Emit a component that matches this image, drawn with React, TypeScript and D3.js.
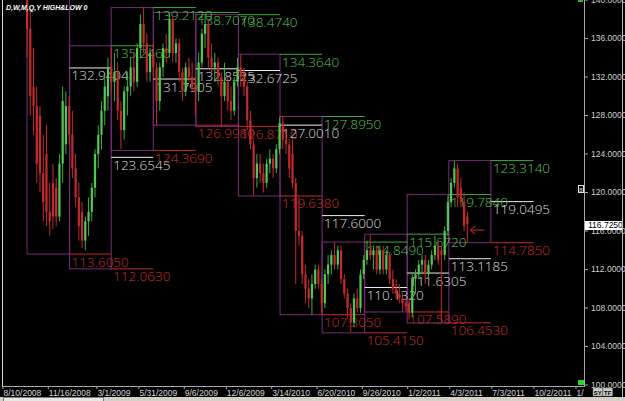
import React from "react";
import * as d3 from "d3";

const W = 625;
const H = 401;

const title = "D,W,M,Q,Y HIGH&LOW 0";
const firstBar = "2008-10-01";

const opens = [
  148, 137, 131, 129, 128, 122, 124, 118, 121, 120.5, 117.5, 123, 125, 129,
  126, 122.5, 119.5, 118, 115, 117, 118, 120.5, 124, 126, 128.5, 130, 133,
  131.5, 132.5, 128.5, 126.5, 130.5, 131, 133, 131.5, 135, 137.5, 135.5, 132.5, 134.5,
  133, 129.5, 133, 135, 134.5, 138, 134.5, 135.5, 132.5, 130.5, 133, 132, 131,
  130.5, 133.5, 136.5, 137.5, 134, 133, 133.5, 132, 130, 131.5, 129.5, 128.5, 131.5,
  133, 132, 131, 127.5, 125, 121.5, 123, 122, 121, 123, 123.5, 122.5, 124.5,
  127.2, 125.5, 125, 124, 121, 116, 115.5, 111.5, 110, 109, 110.5, 112, 110.5,
  108.5, 111.5, 112.5, 113.5, 112.5, 114, 111, 109.5, 108, 106.5, 109, 108, 111.5,
  113, 114, 113.5, 114, 112, 114, 112, 113.5, 111, 110, 109.5, 109, 108.5,
  108.5, 107.5, 111, 111.5, 112.5, 113, 111.5, 112.5, 113.5, 114.5, 114, 113.5, 116,
  119, 121, 122.5, 120.5, 119, 117.5,
];
const highs = [
  150, 139, 135, 131, 129, 126, 127, 121, 123, 121.5, 124, 131, 130.5, 130,
  128.5, 124, 121, 119, 117.5, 119.5, 121, 124.5, 127, 129.5, 132, 134, 135,
  134.5, 133.5, 129.5, 131, 132.5, 134, 134.5, 135.5, 138.5, 139.2, 136.5, 135, 135.5,
  133.5, 133.5, 135.5, 136.5, 138.7, 138.3, 136, 136, 133, 133.5, 134, 133.5, 132,
  134.5, 137, 138.5, 138, 135.5, 134.5, 134, 132.5, 133.5, 132, 131, 132, 134,
  134.3, 133, 131.5, 128.5, 125.5, 124, 124, 123, 123.5, 124.5, 124, 125, 127.8,
  127.9, 126.5, 125.5, 125.5, 121.5, 119.5, 116, 112.5, 111, 111.5, 112.5, 112.5, 111,
  112, 113.5, 114, 114.8, 114.5, 114.5, 111.5, 110, 108.5, 109.5, 110, 112, 113.5,
  115, 115.6, 114.5, 114.5, 114.5, 114.5, 114, 113.8, 112, 111, 110.5, 109.5, 109,
  109, 111.5, 112, 113, 113.5, 113.5, 113, 114, 115.5, 115, 114.5, 116.5, 119.7,
  121.5, 123.3, 123, 121.5, 120, 118,
];
const lows = [
  134, 128, 126, 121, 120, 117, 116.5, 115.5, 116.2, 116.5, 117, 121, 124, 125,
  121.5, 118.5, 115, 114.2, 114, 115.5, 117, 119.5, 122.5, 124.5, 127, 128.5, 130.5,
  129.5, 127.5, 124.5, 125.5, 128, 130, 130.5, 131, 134, 134.5, 131.5, 131.5, 132,
  127, 128.5, 132, 133.5, 134, 133.5, 133.5, 131.5, 129.5, 130, 131.5, 130.5, 128,
  129.5, 133, 135, 133, 132.5, 131.5, 131, 126.9, 129.5, 128.5, 127.5, 128, 131,
  131, 130, 126.5, 124.5, 119.7, 120.5, 121, 120, 120.5, 122, 121.5, 122, 124,
  124.5, 124, 121.5, 120.5, 110.5, 114.5, 110.5, 108.5, 108, 107.3, 110, 110, 107.5,
  108, 110.5, 111.5, 112, 112, 110.5, 109, 107, 105.5, 106, 107.5, 107.5, 111,
  112.5, 113, 112, 111.5, 111.5, 111.5, 111.5, 110.5, 109.5, 109, 108.5, 107.6, 107.7,
  106.8, 107, 109.5, 111, 111.5, 110.5, 111, 112, 113, 112.5, 106.5, 113, 115.5,
  118.5, 120.5, 118.5, 118.5, 116, 114.8,
];
const closes = [
  137, 130, 129, 123, 122, 119, 118, 117, 117.5, 117.5, 123, 129.5, 129, 126,
  122.5, 119.5, 116.5, 115, 117, 118, 120.5, 124, 126, 128.5, 131, 133, 131.5,
  132.5, 128.5, 126.5, 130.5, 131, 133, 131.5, 135, 137.5, 135.5, 132.5, 134.5, 133,
  129.5, 133, 135, 134.5, 138, 134.5, 135.5, 132.5, 130.5, 133, 132, 131, 130.5,
  133.5, 136.5, 137.5, 134, 133, 133.5, 132, 130, 131.5, 129.5, 128.5, 131.5, 133,
  132, 131, 127.5, 125, 121.5, 123, 122, 121, 123, 123.5, 122.5, 124.5, 127.2,
  125.5, 125, 122.5, 121, 116, 115.5, 111.5, 110, 109, 110.5, 112, 110.5, 108.5,
  111.5, 112.5, 113.5, 112.5, 114, 111, 109.5, 108, 106.5, 109, 108, 111.5, 113,
  114, 113.5, 114, 112, 114, 112, 113.5, 111, 110, 109.5, 109, 108.5, 108.2,
  107.5, 111, 111.5, 112.5, 113, 111.5, 112.5, 113.5, 114.5, 113, 113.5, 116, 119,
  121, 122.5, 119.5, 119, 116.5, 116.7,
];

const quarterStarts = [
  "2008-10-01", "2009-01-01", "2009-04-01", "2009-07-01", "2009-10-01",
  "2010-01-01", "2010-04-01", "2010-07-01", "2010-10-01", "2011-01-01",
  "2011-04-01", "2011-07-01", "2011-10-01",
];
const quarterHighs = [
  152.2758, 135.246, 139.212, 138.707, 138.474, 134.364, 127.895, 114.849,
  115.672, 119.784, 123.314,
];
const quarterLows = [
  113.605, 112.063, 124.369, 126.998, 126.871, 119.638, 107.305, 105.415,
  107.589, 106.453, 114.785,
];

const xTickLabels = [
  "8/10/2008", "11/16/2008", "3/1/2009", "5/31/2009", "9/6/2009", "12/6/2009",
  "3/14/2010", "6/20/2010", "9/26/2010", "1/2/2011", "4/3/2011", "7/3/2011",
  "10/2/2011", "1/1/2012",
];
const yTickValues = [100, 104, 108, 112, 116, 120, 124, 128, 132, 136, 140];
const lastPrice = 116.725;
const arrowPrice = 116.1;

const RED = "#c42a2a";
const GREEN = "#3aae3a";
const GREEN_BODY = "#52c852";
const PURPLE = "#7b2c7b";
const LBL_GREEN = "#55c455";
const LBL_RED = "#cc2e2e";
const LBL_WHITE = "#dedede";

export default function App() {
  const parse = d3.timeParse("%Y-%m-%d");
  const parseTick = d3.timeParse("%m/%d/%Y");
  const plotL = 3;
  const plotR = 584;
  const plotB = 386;

  const x = d3
    .scaleTime()
    .domain([parseTick("8/10/2008") as Date, parseTick("1/1/2012") as Date])
    .range([3, 576]);
  const y = d3.scaleLinear().domain([100, 140]).range([385, 0]);

  const start = parse(firstBar) as Date;
  const bars = closes.map((c, i) => ({
    date: d3.timeDay.offset(start, 7 * i),
    o: opens[i],
    h: highs[i],
    l: lows[i],
    c,
  }));

  const qDates = quarterStarts.map((s) => parse(s) as Date);
  const quarters = quarterHighs.map((h, i) => ({
    h,
    l: quarterLows[i],
    m: (h + quarterLows[i]) / 2,
    x0: x(qDates[i]),
    x1: x(qDates[i + 1]),
    x2: x(qDates[i + 2]),
  }));

  const fmt = (v: number) => v.toFixed(4);
  const lblFont = "'Open Sans', 'Liberation Sans', Arial, sans-serif";
  const axFont = "'Liberation Sans Narrow', 'Arial Narrow', 'Liberation Sans', sans-serif";

  const last = bars[bars.length - 1];
  const xl = x(last.date);
  const ya = y(arrowPrice);
  const yp = y(lastPrice);

  return (
    <div style={{ position: "fixed", left: 0, top: 0, width: W, height: H }}>
      <svg width={W} height={H} style={{ display: "block" }}>
        <defs>
          <clipPath id="plot">
            <rect x={plotL} y={0} width={plotR - plotL} height={plotB} />
          </clipPath>
          <clipPath id="xlab">
            <rect x={0} y={plotB} width={plotR} height={12} />
          </clipPath>
        </defs>
        <rect x={0} y={0} width={W} height={H} fill="#000" />

        <g clipPath="url(#plot)">
          {quarters.map((q, i) => (
            <rect
              key={"box" + i}
              x={q.x0}
              y={y(q.h)}
              width={q.x1 - q.x0}
              height={y(q.l) - y(q.h)}
              fill="none"
              stroke={PURPLE}
              strokeWidth={1}
            />
          ))}
          {quarters.map((q, i) => (
            <g key={"ln" + i}>
              <line x1={q.x1} x2={q.x2} y1={y(q.h)} y2={y(q.h)} stroke={GREEN} strokeWidth={1} />
              <line x1={q.x1} x2={q.x2} y1={y(q.l)} y2={y(q.l)} stroke={RED} strokeWidth={1} />
              <line x1={q.x1} x2={q.x2} y1={y(q.m)} y2={y(q.m)} stroke="#eeeeee" strokeWidth={1} />
            </g>
          ))}
          {quarters.map((q, i) => (
            <g key={"lb" + i} fontFamily={lblFont} fontSize={13.5} fontWeight={300}>
              <text x={q.x1 + 2} y={y(q.h) + 12.5} fill={LBL_GREEN}>{fmt(q.h)}</text>
              <text x={q.x1 + 2} y={y(q.l) + 12.5} fill={LBL_RED}>{fmt(q.l)}</text>
              <text x={q.x1 + 2} y={y(q.m) + 12.5} fill={LBL_WHITE}>{fmt(q.m)}</text>
            </g>
          ))}
          {bars.map((b, i) => {
            const cx = x(b.date);
            const up = b.c >= b.o;
            const top = y(Math.max(b.o, b.c));
            const bh = Math.max(1, Math.abs(y(b.o) - y(b.c)));
            return (
              <g key={"bar" + i}>
                <line x1={cx} x2={cx} y1={y(b.h)} y2={y(b.l)} stroke={up ? GREEN : RED} strokeWidth={1} />
                <rect x={cx - 1.1} y={top} width={2.2} height={bh} fill={up ? GREEN_BODY : RED} />
              </g>
            );
          })}
          <g stroke={LBL_RED} strokeWidth={1} fill="none">
            <line x1={xl + 3} x2={xl + 17} y1={ya} y2={ya} />
            <polyline points={`${xl + 8},${ya - 4} ${xl + 3},${ya} ${xl + 8},${ya + 4}`} />
          </g>
        </g>

        <text x={6} y={10} fill="#fff" fontSize={7} fontWeight="bold" fontStyle="italic" fontFamily="Arial, 'Liberation Sans', sans-serif">
          {title}
        </text>

        {/* left border */}
        <line x1={2.5} x2={2.5} y1={0} y2={plotB + 1} stroke="#d8d8d8" strokeWidth={1} />
        {/* x axis */}
        <line x1={plotL} x2={plotR} y1={plotB + 0.5} y2={plotB + 0.5} stroke="#a8a8a8" strokeWidth={1} />
        <g clipPath="url(#xlab)">
          {xTickLabels.map((t, i) => {
            const tx = x(parseTick(t) as Date);
            return (
              <g key={"xt" + i}>
                <line x1={tx} x2={tx} y1={plotB} y2={plotB + 3} stroke="#a8a8a8" />
                <text x={tx + 0.5} y={395.5} fill="#d4d4d4" fontSize={8.5} fontFamily={axFont}>
                  {t}
                </text>
              </g>
            );
          })}
        </g>
        {/* y axis */}
        <line x1={plotR + 0.5} x2={plotR + 0.5} y1={0} y2={plotB + 1} stroke="#a8a8a8" strokeWidth={1} />
        {yTickValues.map((v) => (
          <g key={"yt" + v}>
            <line x1={plotR} x2={plotR + 4} y1={y(v)} y2={y(v)} stroke="#a8a8a8" />
            <text x={591} y={y(v)} dy="0.35em" fill="#cfcfcf" fontSize={8.5} fontFamily={axFont}>
              {v.toFixed(4)}
            </text>
          </g>
        ))}
        <rect x={578} y={0} width={5} height={2} fill="#2fb52f" />
        {/* current price */}
        <rect x={585} y={yp - 3} width={37} height={9} fill="#fff" />
        <text x={588} y={yp + 1.5} dy="0.35em" fill="#000" fontSize={8.5} fontFamily={axFont}>
          {lastPrice.toFixed(4)}
        </text>
        {/* small icon */}
        <rect x={578.5} y={185.5} width={5} height={7} fill="none" stroke="#e0e0e0" strokeWidth={1} />
        <text x={581} y={191.5} fill="#e0e0e0" fontSize={6} textAnchor="middle" fontFamily={axFont}>8</text>
        {/* right border */}
        <line x1={622.5} x2={622.5} y1={0} y2={H} stroke="#bdbdbd" strokeWidth={1} />
        {/* green square */}
        <rect x={578} y={380} width={6} height={5} fill="#22dd22" />
        {/* SY TF buttons */}
        <rect x={593} y={388} width={9.5} height={8} fill="#c8c8c8" stroke="#808080" strokeWidth={0.5} />
        <text x={597.7} y={394.5} fill="#000" fontSize={6} fontWeight="bold" textAnchor="middle" fontFamily={axFont}>SY</text>
        <rect x={603} y={388} width={9.5} height={8} fill="#c8c8c8" stroke="#808080" strokeWidth={0.5} />
        <text x={607.7} y={394.5} fill="#000" fontSize={6} fontWeight="bold" textAnchor="middle" fontFamily={axFont}>TF</text>
        {/* bottom strip */}
        <rect x={0} y={397} width={W} height={4} fill="#d4d0c8" />
        <rect x={3.5} y={397.5} width={100} height={5} fill="#e8e6e0" stroke="#808080" strokeWidth={1} />
      </svg>
    </div>
  );
}
